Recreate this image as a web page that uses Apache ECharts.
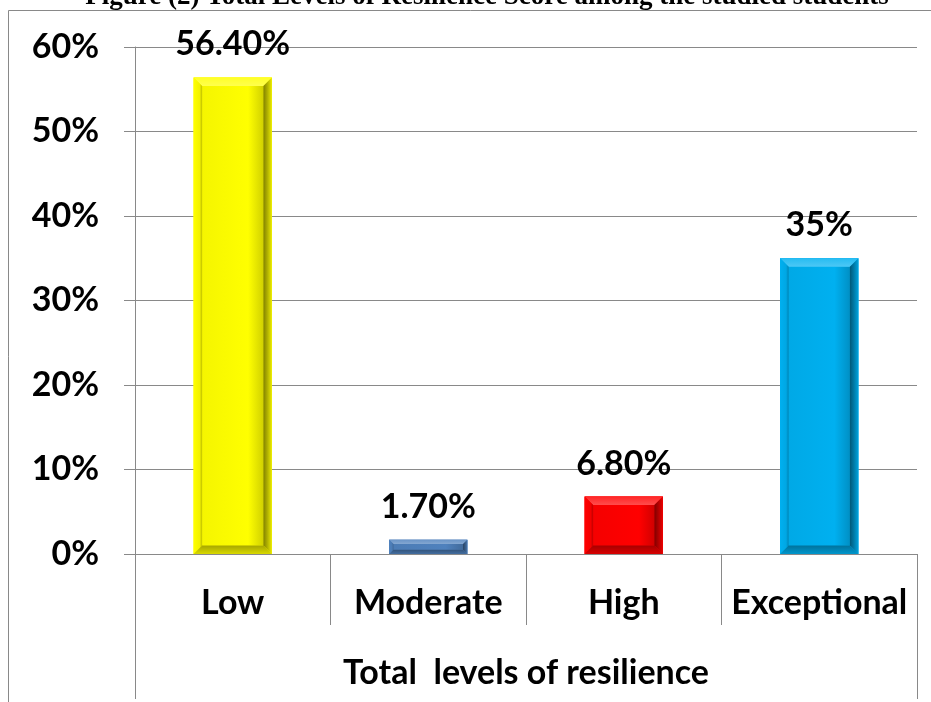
<!DOCTYPE html>
<html><head><meta charset="utf-8">
<script src="https://cdn.jsdelivr.net/npm/echarts@6/dist/echarts.min.js"></script>
<style>html,body{margin:0;padding:0;background:#fff}#c{width:931px;height:702px}</style>
</head><body><div id="c"></div>
<script>
const titleText = 'Figure (2) Total Levels of Resilience Score among the studied students';
const categories = ['Low', 'Moderate', 'High', 'Exceptional'];
const values = [56.4, 1.7, 6.8, 35];
const valueLabels = ['56.40%', '1.70%', '6.80%', '35%'];
const groupLabel = ['Total  levels of resilience'];
const yMin = 0, yMax = 60, yStep = 10;
const barColors = ['#FFFF00', '#4F81BD', '#FF0000', '#00B0F0'];

const FONT = 'Lato, "Open Sans", sans-serif';
const LINE = '#898989';

function hexToRgb(h) { h = h.replace('#', ''); return [parseInt(h.substr(0,2),16), parseInt(h.substr(2,2),16), parseInt(h.substr(4,2),16)]; }
function mix(hex, target, t) {
  const a = hexToRgb(hex), b = hexToRgb(target);
  const r = a.map((v, k) => Math.round(v + (b[k] - v) * t));
  return 'rgb(' + r.join(',') + ')';
}

function renderItem(params, api) {
  const i = api.value(0), v = api.value(1);
  const c = barColors[i];
  const bw = api.size([1, 0])[0] * 0.4;
  const p0 = api.coord([i, v]), p1 = api.coord([i, 0]);
  const L = p0[0] - bw / 2, R = p0[0] + bw / 2, T = p0[1], B = p1[1];
  const h = B - T;
  const b = Math.min(8.5, h * 0.3, bw * 0.15);
  const lin = (x, y, x2, y2, stops) => ({type: 'linear', x: x, y: y, x2: x2, y2: y2, colorStops: stops});
  return {
    type: 'group',
    children: [
      {type: 'rect', shape: {x: L, y: T, width: bw, height: h}, style: {fill: c}},
      {type: 'rect', shape: {x: L + b, y: T + b, width: bw - 2 * b, height: h - 2 * b},
        style: {fill: lin(0, 0, 1, 0, [{offset: 0, color: mix(c, '#000000', 0.04)}, {offset: 0.75, color: c}, {offset: 1, color: mix(c, '#000000', 0.18)}])}},
      {type: 'polygon', shape: {points: [[L, T], [R, T], [R - b, T + b], [L + b, T + b]]},
        style: {fill: lin(0, 0, 0, 1, [{offset: 0, color: mix(c, '#ffffff', 0.15)}, {offset: 1, color: mix(c, '#ffffff', 0.3)}])}},
      {type: 'polygon', shape: {points: [[L, T], [L + b, T + b], [L + b, B - b], [L, B]]},
        style: {fill: lin(0, 0, 1, 0, [{offset: 0, color: c}, {offset: 0.7, color: mix(c, '#000000', 0.05)}, {offset: 1, color: mix(c, '#000000', 0.25)}])}},
      {type: 'polygon', shape: {points: [[R, T], [R - b, T + b], [R - b, B - b], [R, B]]},
        style: {fill: lin(0, 0, 1, 0, [{offset: 0, color: mix(c, '#000000', 0.5)}, {offset: 0.5, color: mix(c, '#000000', 0.3)}, {offset: 1, color: mix(c, '#000000', 0.08)}])}},
      {type: 'polygon', shape: {points: [[L, B], [R, B], [R - b, B - b], [L + b, B - b]]},
        style: {fill: lin(0, 0, 0, 1, [{offset: 0, color: mix(c, '#000000', 0.35)}, {offset: 1, color: mix(c, '#000000', 0.15)}])}}
    ]
  };
}

const labelStyle = {color: '#000', fontFamily: FONT, fontWeight: 'bold', fontSize: 34};

const chart = echarts.init(document.getElementById('c'));
chart.setOption({
  animation: false,
  backgroundColor: '#ffffff',
  grid: {left: 135, right: 14, top: 47, bottom: 148},
  xAxis: [
    {type: 'category', data: categories, position: 'bottom',
      axisLine: {lineStyle: {color: LINE, width: 1}},
      axisTick: {show: true, length: 71, lineStyle: {color: LINE}},
      axisLabel: Object.assign({interval: 0, margin: 32}, labelStyle)},
    {type: 'category', data: groupLabel, position: 'bottom',
      axisLine: {show: false},
      axisTick: {show: true, length: 145, lineStyle: {color: LINE}},
      axisLabel: Object.assign({interval: 0, margin: 102}, labelStyle)}
  ],
  yAxis: {type: 'value', min: yMin, max: yMax, interval: yStep,
    axisLine: {show: true, lineStyle: {color: LINE}},
    axisTick: {show: true, length: 11, lineStyle: {color: LINE}},
    splitLine: {lineStyle: {color: LINE}},
    axisLabel: Object.assign({formatter: '{value}%', margin: 36}, labelStyle)},
  series: [
    {type: 'bar', xAxisIndex: 0, barWidth: '40%',
      data: values.map((v, i) => ({value: v, itemStyle: {color: barColors[i]}})),
      label: Object.assign({show: true, position: 'top', distance: 16, formatter: p => valueLabels[p.dataIndex]}, labelStyle)},
    {type: 'custom', xAxisIndex: 0, z: 3, silent: true, renderItem: renderItem,
      data: values.map((v, i) => [i, v])}
  ],
  graphic: [
    {type: 'rect', z: 100, silent: true, shape: {x: 8.5, y: 10.5, width: 930, height: 700},
      style: {fill: 'rgba(0,0,0,0)', stroke: LINE, lineWidth: 1}},
    {type: 'text', x: 487, y: -3, silent: true,
      style: {text: titleText, fill: '#000', align: 'center', verticalAlign: 'middle', font: 'bold 27px "Liberation Serif", "Times New Roman", serif'}}
  ]
});
</script></body></html>
